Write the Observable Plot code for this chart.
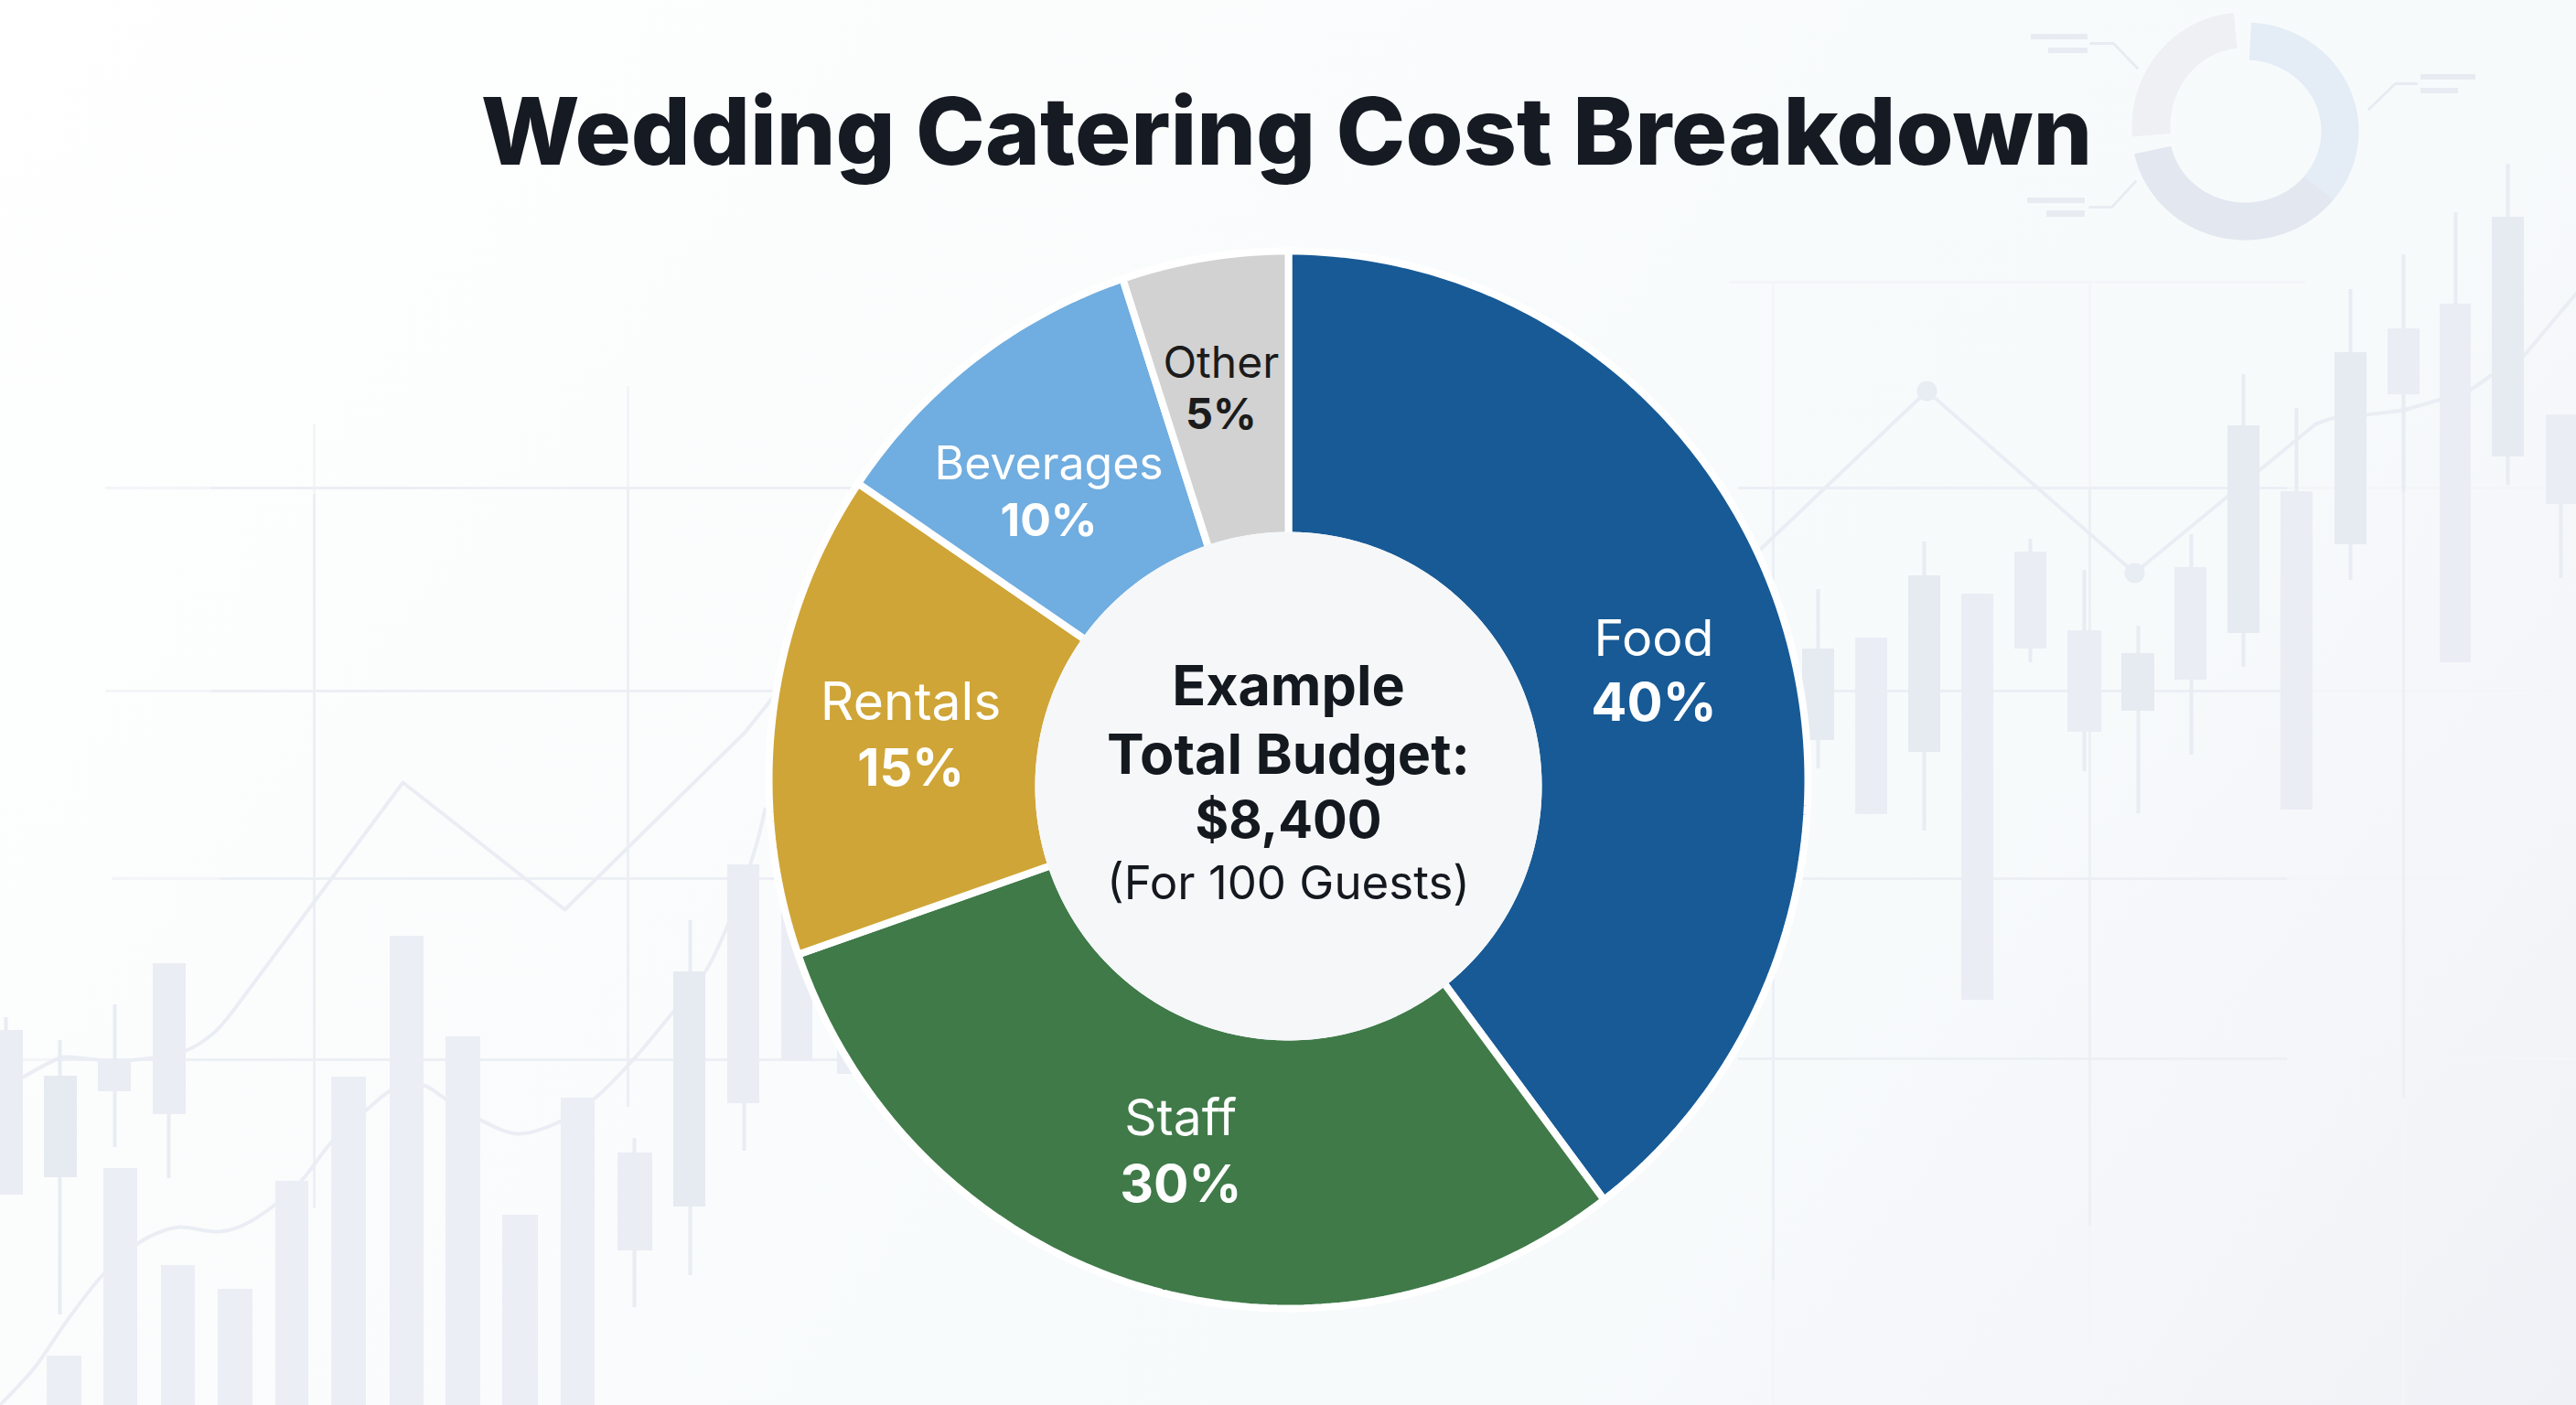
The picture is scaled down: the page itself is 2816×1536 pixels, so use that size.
<!DOCTYPE html>
<html>
<head>
<meta charset="utf-8">
<title>Wedding Catering Cost Breakdown</title>
<script src="https://cdn.jsdelivr.net/npm/d3@7"></script>
<script src="https://cdn.jsdelivr.net/npm/@observablehq/plot@0.6"></script>
<style>
html,body{margin:0;padding:0;width:2816px;height:1536px;overflow:hidden;
background:linear-gradient(128deg,#ffffff 0%,#fcfdfd 22%,#f8fbfc 52%,#f7fafb 72%,#f3f5f9 88%,#eff1f6 100%);}
svg{display:block}
</style>
</head>
<body>
<div id="chart"></div>
<script>
// ---- Chart data ----
const chartTitle = "Wedding Catering Cost Breakdown";
const categories = ["Food", "Staff", "Rentals", "Beverages", "Other"];
const shares = [40, 30, 15, 10, 5];
const centerLines = ["Example", "Total Budget:", "$8,400", "(For 100 Guests)"];

// ---- Faint backdrop (picture pixels) ----
const solidCandles = [
  [1970,2005,709,809],[2086,2121,629,822],[2319,2355,714,777],[2435,2470,465,692],
  [2552,2587,385,595],[2724,2759,237,499],[48,84,1176,1287],[736,771,1062,1319]
];
const paleCandles = [
  [2028,2063,697,890],[2144,2179,649,1093],[2202,2237,603,709],[2260,2297,689,800],
  [2377,2412,620,743],[2493,2528,537,885],[2610,2645,359,431],[2667,2701,332,724],
  [2783,2816,453,551],[0,25,1126,1306],[107,143,1161,1193],[167,203,1053,1218],
  [675,713,1260,1367],[795,830,945,1206],[854,888,990,1160],[915,933,1147,1174]
];
const bars = [
  [51,89,1482],[113,150,1277],[176,213,1383],[238,276,1409],[301,337,1291],
  [362,400,1177],[426,463,1023],[487,525,1133],[549,588,1328],[613,650,1200]
];
const wicks = [
  [1987,644,840],[2103,592,908],[2219,589,724],[2278,623,843],[2337,684,889],[2395,584,825],
  [2452,409,729],[2510,446,537],[2569,316,634],[2627,278,538],[2684,232,332],[2741,179,530],
  [2799,551,632],[6,1112,1126],[65,1137,1437],[125,1098,1254],[184,1218,1288],[693,1244,1429],
  [754,1006,1394],[813,1206,1258]
];
const trendRight = [[1923,601],[2106,427],[2333,626],[2531,463],[2548,457],[2586,453],[2627,448],
  [2665,437],[2700,426],[2724,409],[2759,388],[2816,320]];
const trendMarkers = [[2106,427],[2333,626]];
const trendLeftUpperSmooth = [[25,1177],[65,1156],[73,1155],[122,1159],[167,1156],[203,1148],[233,1129],[254,1105]];
const trendLeftUpperPeaks = [[254,1105],[440,855],[617,994],[814,800],[850,755]];
const trendLeftLower = [[0,1535],[37,1495],[73,1443],[113,1392],[150,1359],[178,1345],[196,1341],
  [239,1346],[263,1340],[301,1316],[331,1288],[362,1248],[400,1213],[426,1192],[444,1185],[463,1186],
  [487,1201],[525,1224],[566,1239],[613,1225],[650,1200],[689,1161],[736,1105],[771,1061],[795,1011],
  [824,931],[836,884]];
const gridRows = [[230,1000,533],[230,1000,755],[240,1000,960],[60,1000,1158],
  [1900,2500,533],[1900,2500,755],[1900,2500,960],[1900,2500,1157]];
const gridRowsFaint = [[115,230,533],[115,230,755],[122,240,960],[0,60,1158],
  [2500,2816,533],[2500,2816,755],[2500,2816,960],[2500,2816,1157],[1890,2520,308]];
const gridCols = [[343,540,1321],[686,533,1210],[1938,533,1400],[2284,533,1340],[2627,533,1200]];
const gridColsFaint = [[343,464,540],[686,422,533],[1938,309,533],[1938,1400,1536],[2284,308,533],[2284,1340,1536],[2627,1200,1536]];
const miniBars = [[2220,2282,37,43],[2239,2282,52,58],[2646,2706,81,87],[2646,2687,96,102],
  [2216,2279,216,222],[2237,2279,230,237]];
const miniLeaders = [
  [[2285,47],[2310,47],[2336,74]],
  [[2641,91],[2618,91],[2589,119]],
  [[2284,226],[2308,226],[2334,198]]
];

// ---- Layout and style (not data) ----
const sliceColors = ["#175a96", "#3f7a48", "#cfa537", "#70ade0", "#d2d2d2"];
const W = 2816, H = 1536;
const ring = {cx: 1408, cy: 852, rx: 568, ry: 578, irx: 273, iry: 274, icy: 859};
const hole = {cx: 1408, cy: 859, rx: 277, ry: 278};
// the reference's separators sit a touch off the exact share angles (degrees)
const outerTrim = [0, -1.4, -1.3, -1.9, -0.6, 0];
const innerTrim = [0, -2.4, -0.4, -0.3, -0.6, 0];
const labelFont = "Inter, 'Open Sans', sans-serif";
// per slice: nudge x, nudge y, half line gap, name size, percent size, colour
const labelStyle = [
  [0, 13, 35, 55.5, 58, "#ffffff"],
  [12, 3, 36, 55, 57, "#ffffff"],
  [2, 19, 36, 57, 56, "#ffffff"],
  [-15, 30, 31, 50, 50, "#ffffff"],
  [-8, -7, 28, 48, 47, "#1b1b1b"]
];
const centerStyle = [
  {dy: -108, size: 61, weight: 700},
  {dy: -33, size: 61, weight: 700},
  {dy: 39, size: 56, weight: 700},
  {dy: 107, size: 51, weight: 400}
];

// ---- Derived geometry ----
const rad = d => d * Math.PI / 180;
function wedge(key, a0, a1, g, b0 = a0, b1 = a1) {
  const pts = [];
  const n = Math.max(2, Math.ceil(Math.abs(a1 - a0)));
  for (let i = 0; i <= n; i++) {
    const a = rad(a0 + (a1 - a0) * i / n);
    pts.push({key, x: g.cx + g.rx * Math.sin(a), y: g.cy - g.ry * Math.cos(a)});
  }
  for (let i = n; i >= 0; i--) {
    const a = rad(b0 + (b1 - b0) * i / n);
    pts.push({key, x: g.cx + g.irx * Math.sin(a), y: (g.icy ?? g.cy) - g.iry * Math.cos(a)});
  }
  pts.push(pts[0]);
  return pts;
}
const total = d3.sum(shares);
let run = 0;
const slices = categories.map((category, i) => {
  const start = run / total * 360;
  run += shares[i];
  const end = run / total * 360;
  const mid = (start + end) / 2;
  return {category, share: shares[i], start, end, pct: shares[i] + "%", i,
    lx: ring.cx + 420 * Math.sin(rad(mid)), ly: ring.cy - 425 * Math.cos(rad(mid))};
});
const slicePoints = slices.flatMap(s => wedge(s.category,
  s.start + outerTrim[s.i], s.end + outerTrim[s.i + 1], ring,
  s.start + innerTrim[s.i], s.end + innerTrim[s.i + 1]).map(p => ({...p, category: s.category})));
const holePoints = d3.range(0, 361, 2).map(d => ({
  x: hole.cx + hole.rx * Math.sin(rad(d)), y: hole.cy - hole.ry * Math.cos(rad(d))}));

const miniRight = wedge("a", 3, 129, {cx: 2454, cy: 143, rx: 124, ry: 119, irx: 83, iry: 78});
const miniBottom = wedge("b", 129, 258, {cx: 2454, cy: 143, rx: 124, ry: 119, irx: 83, iry: 78});
const miniLeft = wedge("c", 265, 355, {cx: 2452, cy: 138, rx: 122, ry: 125, irx: 80, iry: 86});

const gridStroke = "#ecf0f5";
const gridFaint = "#f3f5f8";
const lineStroke = "#eaeef4";
const xy = {x: d => d[0], y: d => d[1]};
const hr = {y: d => d[2], x1: d => d[0], x2: d => d[1], strokeWidth: 3};
const vr = {x: d => d[0], y1: d => d[1], y2: d => d[2], strokeWidth: 3};
const box = {x1: d => d[0], x2: d => d[1], y1: d => d[2], y2: d => d[3]};

const chart = Plot.plot({
  width: W, height: H,
  margin: 0,
  x: {domain: [0, W], range: [0, W], axis: null},
  y: {domain: [0, H], range: [0, H], axis: null},
  color: {domain: categories, range: sliceColors},
  style: {background: "transparent", maxWidth: "none", overflow: "hidden"},
  marks: [
    // backdrop grid
    Plot.ruleY(gridRowsFaint, {...hr, stroke: gridFaint}),
    Plot.ruleX(gridColsFaint, {...vr, stroke: gridFaint}),
    Plot.ruleY(gridRows, {...hr, stroke: gridStroke}),
    Plot.ruleX(gridCols, {...vr, stroke: gridStroke}),
    // backdrop trends
    Plot.line(trendRight, {...xy, stroke: lineStroke, strokeWidth: 4}),
    Plot.dot(trendMarkers, {...xy, r: 11, fill: "#e8ecf3"}),
    Plot.line(trendLeftUpperSmooth, {...xy, stroke: lineStroke, strokeWidth: 4, curve: "catmull-rom"}),
    Plot.line(trendLeftUpperPeaks, {...xy, stroke: lineStroke, strokeWidth: 4}),
    Plot.line(trendLeftLower, {...xy, stroke: lineStroke, strokeWidth: 4, curve: "catmull-rom"}),
    // backdrop candles and bars
    Plot.ruleX(wicks, {x: d => d[0], y1: d => d[1], y2: d => d[2], stroke: "#e8ecf3", strokeWidth: 4}),
    Plot.rect(paleCandles, {...box, fill: "#eaedf4"}),
    Plot.rect(solidCandles, {...box, fill: "#e6ebf2"}),
    Plot.rect(bars, {x1: d => d[0], x2: d => d[1], y1: d => d[2], y2: H, fill: "#ebeef5"}),
    // mini donut, top right
    Plot.line(miniRight, {x: "x", y: "y", fill: "#e4ecf6", stroke: "none"}),
    Plot.line(miniBottom, {x: "x", y: "y", fill: "#e2e7f0", stroke: "none"}),
    Plot.line(miniLeft, {x: "x", y: "y", fill: "#eef0f4", stroke: "none"}),
    Plot.rect(miniBars, {...box, fill: "#e8ecf2"}),
    ...miniLeaders.map(l => Plot.line(l, {...xy, stroke: "#e8ecf2", strokeWidth: 3})),
    // title
    Plot.text([chartTitle], {x: W / 2 - 2, y: 147, text: d => d, fontFamily: labelFont, fontSize: 102,
      fontWeight: 800, fill: "#151a23", textAnchor: "middle", lineAnchor: "middle"}),
    // donut
    Plot.line(slicePoints, {x: "x", y: "y", z: "category", fill: "category", stroke: "#ffffff",
      strokeWidth: 8, strokeLinejoin: "miter"}),
    Plot.line(holePoints, {x: "x", y: "y", fill: "#f5f7f9", stroke: "none"}),
    // slice labels
    ...slices.flatMap((s, i) => {
      const [nx, ny, gap, nameSize, pctSize, color] = labelStyle[i];
      const common = {x: "lx", y: "ly", dx: nx, fontFamily: labelFont, fill: color,
        textAnchor: "middle", lineAnchor: "middle"};
      return [
        Plot.text([s], {...common, text: "category", dy: ny - gap, fontSize: nameSize, fontWeight: 400}),
        Plot.text([s], {...common, text: "pct", dy: ny + gap, fontSize: pctSize, fontWeight: 700})
      ];
    }),
    // centre text
    ...centerLines.map((line, i) => Plot.text([line], {
      x: hole.cx, y: hole.cy, dy: centerStyle[i].dy, text: d => d, fontFamily: labelFont,
      fontSize: centerStyle[i].size, fontWeight: centerStyle[i].weight, fill: "#14181f",
      textAnchor: "middle", lineAnchor: "middle"}))
  ]
});
document.getElementById("chart").appendChild(chart);
</script>
</body>
</html>
